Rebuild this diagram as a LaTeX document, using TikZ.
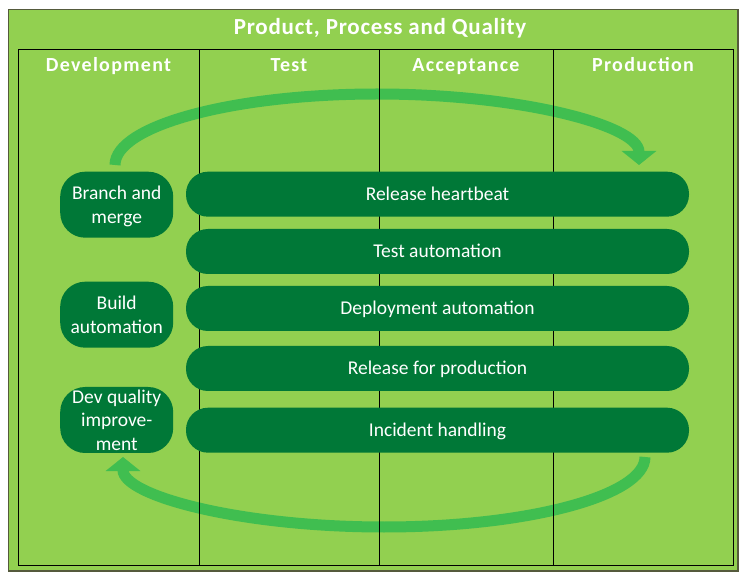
\documentclass[tikz,border=0pt]{standalone}
\usepackage{fontspec}
\setmainfont{Carlito}
\newfontfamily\headfont[LetterSpace=6.5]{Carlito}
\newfontfamily\titlefont[LetterSpace=3.3]{Carlito}
\usetikzlibrary{arrows.meta}

\definecolor{lightgreen}{RGB}{146,208,80}
\definecolor{darkgreen}{RGB}{0,120,55}
\definecolor{loopgreen}{RGB}{64,190,80}
\definecolor{framegray}{RGB}{85,90,60}

\tikzset{
    header/.style={anchor=base, inner sep=0pt, text=white, font=\headfont\fontsize{20}{24}\selectfont\bfseries},
    devbox/.style={fill=darkgreen, rounded corners=25pt, minimum width=113pt, minimum height=66pt, inner sep=0pt, text depth=0pt, text=white, align=center, font=\fontsize{19.5}{23.5}\selectfont},
    lanebox/.style={fill=darkgreen, rounded corners=22pt, minimum width=503pt, minimum height=45pt, inner sep=0pt, text height=13pt, text depth=0pt, text=white, font=\fontsize{19.5}{23.5}\selectfont},
    loop/.style={loopgreen, line width=11pt, -{Triangle[width=34pt, length=14pt]}}
}

\begin{document}
\begin{tikzpicture}[x=1pt, y=-1pt]
    \useasboundingbox (0,0) rectangle (740,572);

    % Frame
    \draw[framegray, line width=1.5pt, fill=lightgreen] (8.5,9.5) rectangle (738,571);

    % Title
    \node[header, font=\titlefont\fontsize{23}{27}\selectfont\bfseries] (title) at (380,34.3) {Product, Process and Quality};

    % Loops
    \coordinate (topstart) at (115,165);
    \coordinate (botstart) at (645,457);
    \draw[loop] (topstart) arc[start angle=180, end angle=360, x radius=262, y radius=71];
    \draw[loop] (botstart) arc[start angle=0, end angle=180, x radius=261, y radius=70];

    % Columns
    \draw (18,49.5) rectangle (733,565);
    \foreach \x in {199,379,553.5}
        \draw (\x,49.5) -- (\x,565);

    % Headers
    \node[header] (devhead) at (108.5,71.7) {Development};
    \node[header] (testhead) at (289,71.7) {Test};
    \node[header] (acchead) at (466,71.7) {Acceptance};
    \node[header] (prodhead) at (643,71.7) {Production};

    % Development boxes
    \node[devbox] (branch) at (116.7,204.7) {Branch and\\merge};
    \node[devbox] (build) at (116.7,314.7) {Build\\automation};
    \node[devbox] (devquality) at (116.7,420) {Dev quality\\improve-\\ment};

    % Lanes
    \node[lanebox] (heartbeat) at (437.5,194.2) {Release heartbeat};
    \node[lanebox] (testauto) at (437.5,251.5) {Test automation};
    \node[lanebox] (deployauto) at (437.5,308.5) {Deployment automation};
    \node[lanebox] (release) at (437.5,368.5) {Release for production};
    \node[lanebox] (incident) at (437.5,430.2) {Incident handling};
\end{tikzpicture}
\end{document}
